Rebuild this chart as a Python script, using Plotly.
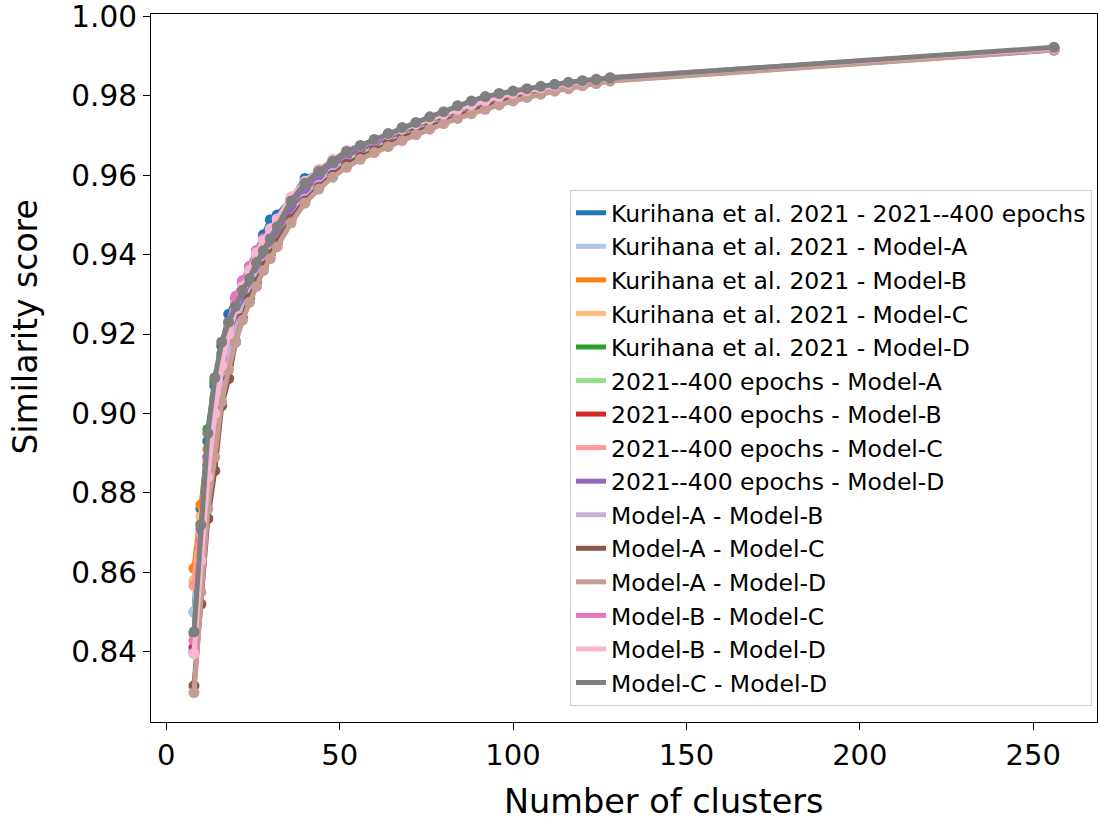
import plotly.graph_objects as go

clusters = [8, 10, 12, 14, 16, 18, 20, 22, 24, 26, 28, 30, 32, 36, 40, 44, 48, 52, 56, 60,
            64, 68, 72, 76, 80, 84, 88, 92, 96, 100, 104, 108, 112, 116, 120, 124, 128, 256]

kur_2021 = [0.850, 0.876, 0.893, 0.907, 0.917, 0.925, 0.929, 0.933, 0.937, 0.941, 0.945, 0.9488, 0.950,
            0.954, 0.9592, 0.961, 0.9625, 0.965, 0.9668, 0.968, 0.9697, 0.971, 0.9725, 0.974, 0.9752,
            0.9765, 0.9777, 0.9788, 0.9797, 0.9805, 0.9812, 0.9818, 0.9823, 0.9829, 0.9834, 0.9838, 0.9843, 0.9918]
kur_A = [0.850, 0.868, 0.887, 0.901, 0.911, 0.918, 0.923, 0.927, 0.931, 0.935, 0.938, 0.941, 0.944,
         0.950, 0.9545, 0.958, 0.961, 0.9635, 0.9652, 0.9665, 0.968, 0.9695, 0.971, 0.9722, 0.9735,
         0.9748, 0.976, 0.977, 0.978, 0.979, 0.9798, 0.9806, 0.9814, 0.982, 0.9827, 0.9833, 0.9838, 0.9915]
kur_B = [0.861, 0.877, 0.891, 0.904, 0.914, 0.921, 0.926, 0.930, 0.934, 0.938, 0.941, 0.944, 0.9465,
         0.952, 0.9565, 0.960, 0.9625, 0.965, 0.9665, 0.968, 0.9695, 0.971, 0.9723, 0.9737, 0.975,
         0.9762, 0.9774, 0.9785, 0.9795, 0.9803, 0.981, 0.9817, 0.9823, 0.9829, 0.9834, 0.9839, 0.9843, 0.9918]
kur_C = [0.858, 0.874, 0.889, 0.903, 0.913, 0.920, 0.925, 0.929, 0.933, 0.937, 0.940, 0.943, 0.946,
         0.9515, 0.956, 0.9595, 0.962, 0.9645, 0.966, 0.9675, 0.969, 0.9705, 0.972, 0.9733, 0.9746,
         0.9758, 0.977, 0.978, 0.979, 0.980, 0.9808, 0.9815, 0.9821, 0.9827, 0.9833, 0.9838, 0.9842, 0.9917]
kur_D = [0.8445, 0.872, 0.896, 0.908, 0.915, 0.921, 0.926, 0.930, 0.934, 0.9375, 0.9405, 0.9435, 0.946,
         0.952, 0.9565, 0.9598, 0.9625, 0.965, 0.9667, 0.9682, 0.9697, 0.9712, 0.9725, 0.9739, 0.9752,
         0.9764, 0.9776, 0.9787, 0.9797, 0.9805, 0.9812, 0.9818, 0.9824, 0.983, 0.9835, 0.984, 0.9844, 0.9919]
e400_A = [0.845, 0.866, 0.886, 0.900, 0.911, 0.919, 0.924, 0.928, 0.932, 0.936, 0.939, 0.942, 0.9448,
          0.9505, 0.955, 0.9588, 0.9615, 0.964, 0.9657, 0.9672, 0.9688, 0.9702, 0.9716, 0.973, 0.9743,
          0.9755, 0.9767, 0.9778, 0.9788, 0.9797, 0.9805, 0.9812, 0.9819, 0.9825, 0.9831, 0.9836, 0.9841, 0.9917]
e400_B = [0.841, 0.866, 0.887, 0.902, 0.913, 0.920, 0.925, 0.9295, 0.9335, 0.9372, 0.9405, 0.9435, 0.946,
          0.952, 0.9565, 0.960, 0.9627, 0.9652, 0.9668, 0.9683, 0.970, 0.9713, 0.9727, 0.974, 0.9753,
          0.9765, 0.9777, 0.9788, 0.9798, 0.9806, 0.9813, 0.982, 0.9825, 0.9831, 0.9836, 0.984, 0.9844, 0.992]
e400_C = [0.8567, 0.872, 0.889, 0.903, 0.914, 0.922, 0.928, 0.932, 0.936, 0.940, 0.943, 0.946, 0.948,
          0.9535, 0.9575, 0.9605, 0.963, 0.9653, 0.9668, 0.9683, 0.9698, 0.9712, 0.9726, 0.974, 0.9752,
          0.9764, 0.9776, 0.9787, 0.9797, 0.9805, 0.9812, 0.9819, 0.9825, 0.983, 0.9835, 0.984, 0.9844, 0.9919]
e400_D = [0.840, 0.871, 0.889, 0.903, 0.913, 0.920, 0.925, 0.9295, 0.9335, 0.937, 0.9405, 0.9435, 0.946,
          0.952, 0.9565, 0.9598, 0.9625, 0.965, 0.9666, 0.9681, 0.9697, 0.9711, 0.9725, 0.9738, 0.9751,
          0.9763, 0.9775, 0.9786, 0.9796, 0.9804, 0.9811, 0.9818, 0.9824, 0.983, 0.9835, 0.984, 0.9844, 0.9919]
mA_mB = [0.8395, 0.862, 0.882, 0.897, 0.908, 0.916, 0.921, 0.926, 0.930, 0.934, 0.9375, 0.9405, 0.943,
         0.949, 0.954, 0.9575, 0.9605, 0.963, 0.9645, 0.966, 0.9675, 0.969, 0.9705, 0.9718, 0.9731,
         0.9744, 0.9756, 0.9767, 0.9778, 0.9788, 0.9797, 0.9805, 0.9813, 0.9819, 0.9826, 0.9832, 0.9838, 0.9916]
mA_mC = [0.8314, 0.852, 0.8735, 0.8856, 0.902, 0.9088, 0.918, 0.924, 0.929, 0.933, 0.937, 0.940, 0.943,
         0.949, 0.9535, 0.957, 0.960, 0.9628, 0.9645, 0.9662, 0.9678, 0.9693, 0.9708, 0.9722, 0.9736,
         0.9749, 0.9761, 0.9772, 0.9783, 0.9792, 0.980, 0.9808, 0.9815, 0.9822, 0.9828, 0.9833, 0.9839, 0.9916]
mA_mD = [0.8297, 0.855, 0.876, 0.889, 0.903, 0.911, 0.918, 0.9235, 0.928, 0.932, 0.936, 0.939, 0.942,
         0.948, 0.953, 0.9565, 0.9595, 0.962, 0.964, 0.9657, 0.9672, 0.9687, 0.9702, 0.9716, 0.973,
         0.9743, 0.9755, 0.9766, 0.9777, 0.9787, 0.9796, 0.9804, 0.9812, 0.9818, 0.9825, 0.9831, 0.9837, 0.9915]
mB_mC = [0.8428, 0.868, 0.888, 0.903, 0.914, 0.923, 0.9295, 0.9335, 0.937, 0.941, 0.944, 0.9465, 0.949,
         0.954, 0.958, 0.961, 0.9635, 0.966, 0.9673, 0.9688, 0.9703, 0.9717, 0.973, 0.9743, 0.9755,
         0.9767, 0.9778, 0.9789, 0.9799, 0.9807, 0.9814, 0.982, 0.9826, 0.9832, 0.9837, 0.9842, 0.9846, 0.992]
mB_mD = [0.8395, 0.863, 0.884, 0.900, 0.912, 0.920, 0.9265, 0.932, 0.936, 0.9405, 0.9435, 0.9465, 0.949,
         0.9545, 0.9585, 0.9615, 0.964, 0.9662, 0.9675, 0.969, 0.9703, 0.9716, 0.9729, 0.9742, 0.9754,
         0.9766, 0.9777, 0.9788, 0.9798, 0.9806, 0.9813, 0.982, 0.9826, 0.9831, 0.9836, 0.9841, 0.9845, 0.992]
mC_mD = [0.845, 0.872, 0.895, 0.909, 0.918, 0.923, 0.927, 0.931, 0.934, 0.938, 0.941, 0.944, 0.947,
         0.9535, 0.958, 0.961, 0.9635, 0.966, 0.9675, 0.969, 0.9705, 0.972, 0.9733, 0.9747, 0.976,
         0.9775, 0.9787, 0.9798, 0.9806, 0.9812, 0.9818, 0.9824, 0.9829, 0.9834, 0.9838, 0.9841, 0.9845, 0.9922]

series_names = [
    "Kurihana et al. 2021 - 2021--400 epochs",
    "Kurihana et al. 2021 - Model-A",
    "Kurihana et al. 2021 - Model-B",
    "Kurihana et al. 2021 - Model-C",
    "Kurihana et al. 2021 - Model-D",
    "2021--400 epochs - Model-A",
    "2021--400 epochs - Model-B",
    "2021--400 epochs - Model-C",
    "2021--400 epochs - Model-D",
    "Model-A - Model-B",
    "Model-A - Model-C",
    "Model-A - Model-D",
    "Model-B - Model-C",
    "Model-B - Model-D",
    "Model-C - Model-D",
]
series_values = [kur_2021, kur_A, kur_B, kur_C, kur_D, e400_A, e400_B, e400_C, e400_D,
                 mA_mB, mA_mC, mA_mD, mB_mC, mB_mD, mC_mD]
colors = ["#1f77b4", "#aec7e8", "#ff7f0e", "#ffbb78", "#2ca02c", "#98df8a", "#d62728",
          "#ff9896", "#9467bd", "#c5b0d5", "#8c564b", "#c49c94", "#e377c2", "#f7b6d2", "#7f7f7f"]

x_ticks = [0, 50, 100, 150, 200, 250]
y_ticks = [0.84, 0.86, 0.88, 0.90, 0.92, 0.94, 0.96, 0.98, 1.00]
y_ticktext = ["0.84", "0.86", "0.88", "0.90", "0.92", "0.94", "0.96", "0.98", "1.00"]

fig = go.Figure()
for name, vals, col in zip(series_names, series_values, colors):
    fig.add_trace(go.Scatter(
        x=clusters, y=vals, mode="lines+markers", name=name, showlegend=False,
        line=dict(color=col, width=5), marker=dict(color=col, size=11),
    ))
# legend entries (line only, as in the reference)
for name, col in zip(series_names, colors):
    fig.add_trace(go.Scatter(
        x=[None], y=[None], mode="lines", name=name,
        line=dict(color=col, width=5),
    ))

font_family = "DejaVu Sans"
fig.update_layout(
    width=1098, height=821,
    margin=dict(l=151, r=1, t=14, b=99),
    paper_bgcolor="white", plot_bgcolor="white",
    font=dict(family=font_family, color="black"),
    showlegend=True,
    legend=dict(
        x=0.9947, y=0.0226, xanchor="right", yanchor="bottom",
        font=dict(size=23.5, family=font_family, color="black"),
        bgcolor="rgba(255,255,255,0.8)", bordercolor="#d0d0d0", borderwidth=1,
    ),
    xaxis=dict(
        range=[-4.4, 268.4], tickvals=x_ticks,
        showgrid=False, zeroline=False,
        showline=True, linecolor="black", linewidth=1.3, mirror=True,
        ticks="outside", ticklen=7, tickwidth=1.3, tickcolor="black",
        tickfont=dict(size=29, family=font_family),
        ticklabeloverflow="allow",
    ),
    yaxis=dict(
        range=[0.8223, 1.0006],
        tickvals=y_ticks, ticktext=y_ticktext,
        showgrid=False, zeroline=False,
        showline=True, linecolor="black", linewidth=1.3, mirror=True,
        ticks="outside", ticklen=7, tickwidth=1.3, tickcolor="black",
        tickfont=dict(size=29.5, family=font_family),
        ticklabeloverflow="allow",
    ),
    annotations=[
        dict(text="Number of clusters", xref="paper", yref="paper",
             x=0.5423, y=-0.1118, xanchor="center", yanchor="middle", showarrow=False,
             font=dict(size=33.5, family=font_family, color="black")),
        dict(text="Similarity score", xref="paper", yref="paper", textangle=-90,
             x=-0.1332, y=0.5587, xanchor="center", yanchor="middle", showarrow=False,
             font=dict(size=33, family=font_family, color="black")),
    ],
)

fig.write_html("out.html")
